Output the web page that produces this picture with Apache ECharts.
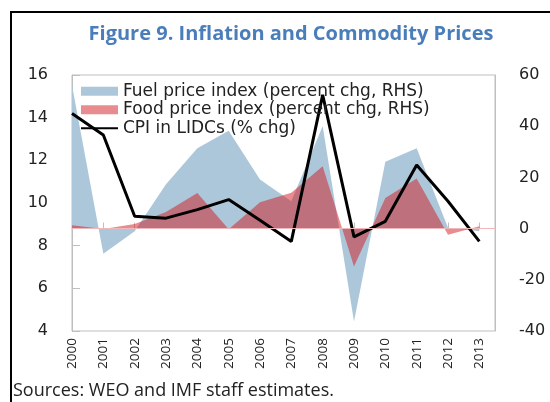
<!DOCTYPE html>
<html>
<head>
<meta charset="utf-8">
<script src="https://cdn.jsdelivr.net/npm/echarts@6/dist/echarts.min.js"></script>
<style>
  html, body { margin: 0; padding: 0; background: #fff; }
  #chart { width: 550px; height: 402px; }
</style>
</head>
<body>
<div id="chart"></div>
<script>
// years on the x axis
var years = [2000, 2001, 2002, 2003, 2004, 2005, 2006, 2007, 2008, 2009, 2010, 2011, 2012, 2013];
// fuel price index, percent change (RHS)
var fuel = [56, -9.8, -1, 17.3, 31.4, 38.2, 19.2, 10.7, 40.1, -36.3, 26.1, 31.4, 0.3, -1];
// food price index, percent change (RHS)
var food = [1.3, -0.2, 1.8, 6.5, 13.9, -0.3, 10.3, 14, 24.4, -14.8, 12, 19.6, -2.4, 0.9];
// CPI in LIDCs, % change (LHS)
var cpi = [14.2, 13.19, 9.38, 9.29, 9.69, 10.16, 9.19, 8.2, 15.07, 8.41, 9.14, 11.78, 10.08, 8.2];

var names = ["Fuel price index (percent chg, RHS)", "Food price index (percent chg, RHS)", "CPI in LIDCs (% chg)"];

function pairs(vals) {
  return years.map(function (y, i) { return [y, vals[i]]; });
}

var labelFont = "'DejaVu Sans', Verdana, sans-serif";

var option = {
  backgroundColor: "#fff",
  animation: false,
  title: {
    text: "Figure 9. Inflation and Commodity Prices",
    left: 286,
    textAlign: "center",
    top: 19,
    textStyle: {
      fontFamily: "Open Sans",
      fontWeight: "bold",
      fontSize: 20,
      color: "#4a7ebb"
    }
  },
  legend: {
    orient: "vertical",
    left: 76,
    top: 77,
    itemWidth: 37,
    itemHeight: 9,
    itemGap: 0,
    textStyle: {
      fontFamily: labelFont,
      fontSize: 17,
      lineHeight: 18.5,
      color: "#222"
    },
    data: [
      { name: names[0], icon: "rect", itemStyle: { color: "#adc7da" } },
      { name: names[1], icon: "rect", itemStyle: { color: "#e88c90" } },
      {
        name: names[2],
        icon: "path://M0,0L0.01,0L0.01,0.01L0,0.01ZM0,3.5L37,3.5L37,5.5L0,5.5ZM0,9L0.01,9L0.01,9.01L0,9.01Z",
        itemStyle: { color: "#000" }
      }
    ]
  },
  grid: {
    left: 72,
    right: 55,
    top: 75,
    bottom: 71,
    show: true,
    borderColor: "#bfbfbf",
    borderWidth: 1
  },
  xAxis: {
    type: "value",
    min: 2000,
    max: 2013.5,
    interval: 1,
    splitLine: { show: false },
    axisLine: { lineStyle: { color: "#bfbfbf" } },
    axisTick: { inside: true, length: 6, lineStyle: { color: "#bfbfbf" } },
    axisLabel: {
      rotate: 90,
      margin: 7,
      fontFamily: "Open Sans",
      fontSize: 13.5,
      color: "#222",
      showMaxLabel: false,
      formatter: function (v) { return v % 1 === 0 ? String(v) : ""; }
    }
  },
  yAxis: [
    {
      type: "value",
      min: 4,
      max: 16,
      interval: 2,
      splitLine: { show: false },
      axisLine: { show: true, lineStyle: { color: "#bfbfbf" } },
      axisTick: { show: true, inside: true, length: 8, lineStyle: { color: "#bfbfbf" } },
      axisLabel: { margin: 24, fontFamily: labelFont, fontSize: 16, color: "#222" }
    },
    {
      type: "value",
      min: -40,
      max: 60,
      interval: 20,
      splitLine: { show: false },
      axisLine: { show: true, lineStyle: { color: "#bfbfbf" } },
      axisTick: { show: false },
      axisLabel: { margin: 24, fontFamily: labelFont, fontSize: 16, color: "#222" }
    }
  ],
  series: [
    {
      name: names[0],
      type: "line",
      yAxisIndex: 1,
      symbol: "none",
      data: pairs(fuel),
      itemStyle: { color: "#adc7da" },
      lineStyle: { width: 0 },
      areaStyle: { color: "#adc7da", opacity: 1 },
      z: 1
    },
    {
      name: names[1],
      type: "line",
      yAxisIndex: 1,
      symbol: "none",
      data: pairs(food),
      itemStyle: { color: "#e88c90" },
      lineStyle: { width: 0 },
      areaStyle: { color: "#d1191f", opacity: 0.5 },
      markLine: {
        silent: true,
        symbol: "none",
        label: { show: false },
        lineStyle: { color: "#f0b8ba", width: 1, type: "solid" },
        data: [{ yAxis: 0 }]
      },
      z: 2
    },
    {
      name: names[2],
      type: "line",
      yAxisIndex: 0,
      symbol: "none",
      data: pairs(cpi),
      itemStyle: { color: "#000" },
      lineStyle: { color: "#000", width: 3 },
      z: 3
    }
  ],
  graphic: [
    { type: "line", shape: { x1: 11, y1: 12, x2: 11, y2: 402 }, style: { stroke: "#000", lineWidth: 2 } },
    { type: "line", shape: { x1: 10, y1: 12, x2: 550, y2: 12 }, style: { stroke: "#000", lineWidth: 2 } },
    {
      type: "text",
      left: 13,
      top: 382,
      style: { text: "Sources: WEO and IMF staff estimates.", font: "18px 'Open Sans'", fill: "#222" }
    }
  ]
};

var chart = echarts.init(document.getElementById("chart"));
chart.setOption(option);
window.addEventListener("resize", function () { chart.resize(); });
</script>
</body>
</html>
